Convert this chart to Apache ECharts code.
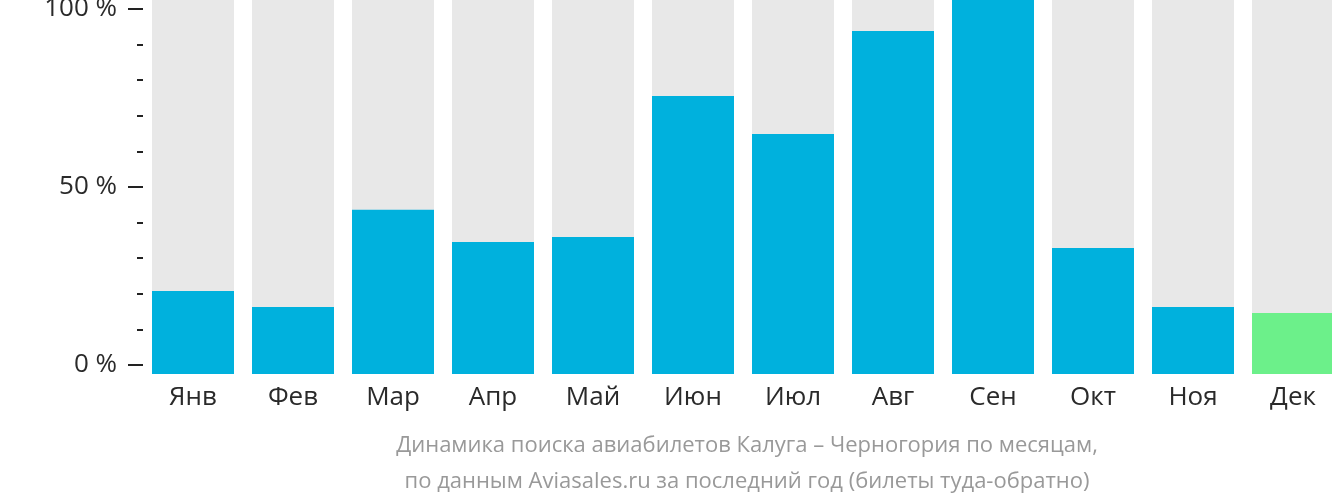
<!DOCTYPE html>
<html><head><meta charset="utf-8">
<script src="https://cdn.jsdelivr.net/npm/echarts@6/dist/echarts.min.js"></script>
<style>html,body{margin:0;padding:0;background:#fff}#c{width:1332px;height:502px}</style>
</head><body><div id="c"></div>
<script>
const months = ['Янв','Фев','Мар','Апр','Май','Июн','Июл','Авг','Сен','Окт','Ноя','Дек'];
const values = [22.2, 17.9, 43.9, 35.3, 36.6, 74.3, 64.2, 91.7, 100, 33.7, 17.9, 16.3];
const highlightIndex = 11;
const yTicks = [0, 50, 100];
const titleLines = ['Динамика поиска авиабилетов Калуга – Черногория по месяцам,', 'по данным Aviasales.ru за последний год (билеты туда-обратно)'];

const FONT = '"Open Sans", sans-serif';
const chart = echarts.init(document.getElementById('c'), null, {renderer: 'canvas'});
chart.setOption({
  animation: false,
  title: {
    text: titleLines.join('\n'),
    left: 742, top: 423, textAlign: 'center',
    textStyle: {fontFamily: FONT, fontSize: 22, fontWeight: 'normal', color: '#999', lineHeight: 36}
  },
  grid: [
    {left: 143, width: 1200, top: 9, height: 356, outerBoundsMode: 'none', containLabel: false},
    {left: 143, width: 1200, top: 0, height: 374, outerBoundsMode: 'none', containLabel: false}
  ],
  xAxis: [
    {gridIndex: 0, type: 'category', data: months, show: false},
    {gridIndex: 1, type: 'category', data: months,
     axisLine: {show: false}, axisTick: {show: false},
     axisLabel: {fontFamily: FONT, fontSize: 26, color: '#2a2a2a', margin: 11}}
  ],
  yAxis: [
    {gridIndex: 0, type: 'value', min: 0, max: 100, interval: 50,
     axisLine: {show: false},
     axisTick: {show: true, length: 15, lineStyle: {color: '#222', width: 2}},
     minorTick: {show: true, splitNumber: 5, length: 6, lineStyle: {color: '#222', width: 2}},
     splitLine: {show: false},
     axisLabel: {fontFamily: FONT, fontSize: 26, color: '#2a2a2a', margin: 26,
       formatter: v => yTicks.includes(v) ? v + ' %' : ''}},
    {gridIndex: 1, type: 'value', min: 0, max: 100, show: false}
  ],
  series: [{
    type: 'bar', xAxisIndex: 1, yAxisIndex: 1, barWidth: 82,
    showBackground: true, backgroundStyle: {color: '#e8e8e8'},
    data: values.map((v, i) => ({value: v, itemStyle: {color: i === highlightIndex ? '#6cf08a' : '#00b1dd'}}))
  }]
});
</script></body></html>
